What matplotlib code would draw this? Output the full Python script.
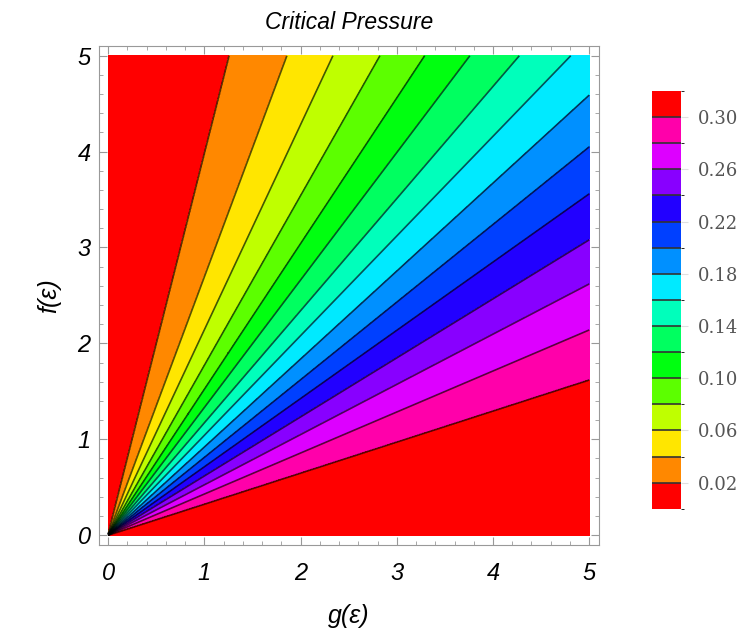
import numpy as np
import matplotlib
matplotlib.use('Agg')
import matplotlib.pyplot as plt
from matplotlib.colors import ListedColormap, BoundaryNorm
from matplotlib.cm import ScalarMappable

# contour levels (colour bar boundaries)
levels = [0.02, 0.04, 0.06, 0.08, 0.10, 0.12, 0.14, 0.16, 0.18, 0.20, 0.22, 0.24, 0.26, 0.28, 0.30]
# slope f/g of each contour ray (same order as levels)
ray_slopes = [3.97, 2.69, 2.14, 1.77, 1.52, 1.33, 1.17, 1.04, 0.918, 0.81, 0.712, 0.616, 0.524, 0.428, 0.324]
# values used for the two red zones outside the first / last contour
low_fill, high_fill = 0.01, 0.31
band_edges = [0.0] + levels + [0.32]
band_colors = ['#ff0000', '#ff8800', '#ffe600', '#bfff00', '#5cff00', '#00ff10', '#00ff60',
               '#00ffbb', '#00eaff', '#0090ff', '#0040ff', '#2200ff', '#8800ff', '#dd00ff',
               '#ff00aa', '#ff0000']
cbar_ticks = [0.02, 0.06, 0.10, 0.14, 0.18, 0.22, 0.26, 0.30]

g = np.linspace(0, 5, 601)
f = np.linspace(0, 5, 601)
G, F = np.meshgrid(g, f)
theta = np.arctan2(F, G)
ray_angles = np.arctan(ray_slopes)
# np.interp wants increasing x
ang = np.concatenate([[0.0], ray_angles[::-1], [np.pi / 2]])
val = np.concatenate([[high_fill], levels[::-1], [low_fill]])
Z = np.interp(theta, ang, val)

cmap = ListedColormap(band_colors)
norm = BoundaryNorm(band_edges, cmap.N)

fig = plt.figure(figsize=(7.5, 6.36), dpi=100)
ax = fig.add_axes([0.132, 0.143, 0.667, 0.785])
ax.contourf(G, F, Z, levels=band_edges, cmap=cmap, norm=norm)
ax.contour(G, F, Z, levels=levels, colors='k', linewidths=1.2, alpha=0.65)

ax.set_xlim(-0.094, 5.104)
ax.set_ylim(-0.104, 5.104)
ax.set_xticks(range(6))
ax.set_yticks(range(6))
ax.set_xticks(np.arange(0, 5.01, 0.2), minor=True)
ax.set_yticks(np.arange(0, 5.01, 0.2), minor=True)
ax.tick_params(which='both', direction='in', top=True, right=True, color='#999999')
ax.tick_params(which='major', length=6, width=0.8)
ax.tick_params(which='minor', length=3, width=0.6)
ax.tick_params(axis='x', pad=12)
ax.tick_params(axis='y', pad=6)
for s in ax.spines.values():
    s.set_color('#999999')

lab = dict(family='Liberation Sans', style='italic')
for t in ax.get_xticklabels() + ax.get_yticklabels():
    t.set_fontfamily('Liberation Sans')
    t.set_fontstyle('italic')
    t.set_fontsize(17)
ax.set_xlabel('g(ε)', fontsize=18, labelpad=14, **lab)
ax.set_ylabel('f(ε)', fontsize=18, labelpad=12, **lab)
ax.set_title('Critical Pressure', fontsize=16.5, pad=12, **lab)

cax = fig.add_axes([0.869, 0.200, 0.039, 0.657])
sm = ScalarMappable(norm=norm, cmap=cmap)
cb = fig.colorbar(sm, cax=cax, boundaries=band_edges, ticks=cbar_ticks, drawedges=True)
cb.outline.set_visible(False)
cb.dividers.set_color('#333333')
cb.dividers.set_linewidth(1.2)
cb.ax.tick_params(length=5, color='#e0e0e0', pad=7)
cb.ax.set_yticklabels(['%.2f' % v for v in cbar_ticks])
for t in cb.ax.get_yticklabels():
    t.set_fontfamily('DejaVu Serif')
    t.set_fontsize(13)
    t.set_color('#555555')

fig.savefig('out.png', dpi=100)
